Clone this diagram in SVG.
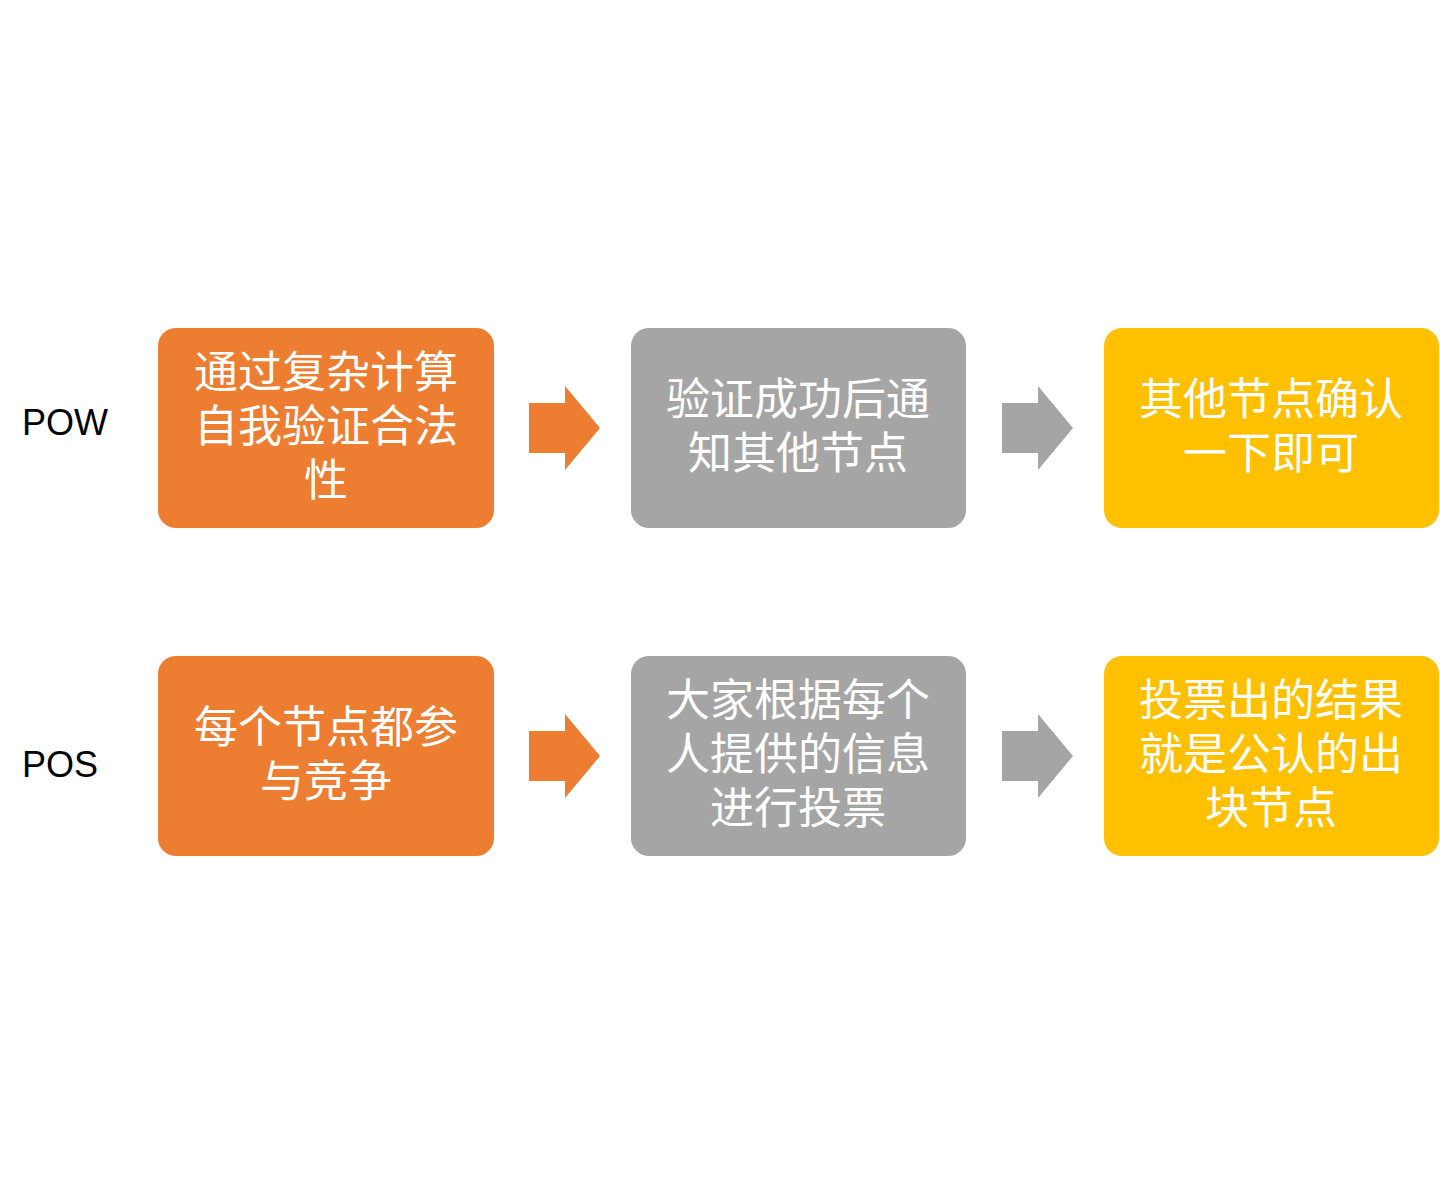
<svg xmlns="http://www.w3.org/2000/svg" width="1440" height="1185" viewBox="0 0 1440 1185">
<style>
.t{font-family:"Noto Sans CJK SC","Noto Sans",sans-serif;font-size:44px;fill:#fff;text-anchor:middle}
.l{font-family:"Liberation Sans",Arial,sans-serif;font-size:36px;fill:#000}
.o{fill:#ED7D31}.g{fill:#A5A5A5}.y{fill:#FFC000}
</style>
<defs><path id="ar" d="M0,-25 H36 V-42 L71,0 L36,42 V25 H0 Z"/></defs>
<rect width="1440" height="1185" fill="#fff"/>
<text class="l" x="22" y="435">POW</text>
<text class="l" x="22" y="777">POS</text>
<g id="n1"><rect class="o" x="158" y="328" width="336" height="200" rx="18"/>
<text class="t" x="326" y="388">通过复杂计算</text><text class="t" x="326" y="442">自我验证合法</text><text class="t" x="326" y="496">性</text></g>
<g id="n2"><rect class="g" x="631" y="328" width="335" height="200" rx="18"/>
<text class="t" x="798" y="415">验证成功后通</text><text class="t" x="798" y="469">知其他节点</text></g>
<g id="n3"><rect class="y" x="1104" y="328" width="335" height="200" rx="18"/>
<text class="t" x="1271" y="415">其他节点确认</text><text class="t" x="1271" y="469">一下即可</text></g>
<g id="n4"><rect class="o" x="158" y="656" width="336" height="200" rx="18"/>
<text class="t" x="326" y="743">每个节点都参</text><text class="t" x="326" y="797">与竞争</text></g>
<g id="n5"><rect class="g" x="631" y="656" width="335" height="200" rx="18"/>
<text class="t" x="798" y="716">大家根据每个</text><text class="t" x="798" y="770">人提供的信息</text><text class="t" x="798" y="824">进行投票</text></g>
<g id="n6"><rect class="y" x="1104" y="656" width="335" height="200" rx="18"/>
<text class="t" x="1271" y="716">投票出的结果</text><text class="t" x="1271" y="770">就是公认的出</text><text class="t" x="1271" y="824">块节点</text></g>
<g id="connectors">
<use href="#ar" class="o" x="529" y="428"/>
<use href="#ar" class="g" x="1002" y="428"/>
<use href="#ar" class="o" x="529" y="756"/>
<use href="#ar" class="g" x="1002" y="756"/>
</g>
</svg>
